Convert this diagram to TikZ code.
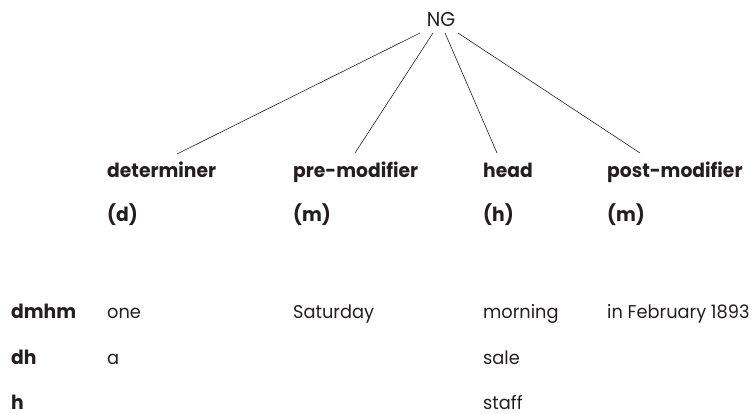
\documentclass[tikz,border=0pt]{standalone}
\usepackage{fontspec}
\setmainfont{Poppins}[FakeStretch=0.96]
\usepackage{tikz}
\tikzset{>=latex}
\usetikzlibrary{calc}
\definecolor{ink}{HTML}{231F20}
\tikzset{
  role/.style={anchor=base west, inner sep=0pt, font=\fontsize{19.5}{21}\selectfont\bfseries, text=ink},
  filler/.style={anchor=base west, inner sep=0pt, font=\fontsize{18.5}{20}\selectfont, text=ink},
  branch/.style={draw=ink, line width=0.6pt}
}

\begin{document}
\begin{tikzpicture}[x=1pt, y=-1pt]
                \useasboundingbox (0, 0) rectangle (755, 414);
                \node[filler, anchor=base, font=\fontsize{20}{22}\selectfont] (ng) at (441, 27) {NG};
                \node[role] (det) at (107, 178) {determiner};
                \node[role] (pre) at (293, 178) {pre-modifier};
                \node[role] (head) at (483, 178) {head};
                \node[role] (post) at (607, 178) {post-modifier};
                \node[role] (det-s) at (107, 222) {(d)};
                \node[role] (pre-s) at (293, 222) {(m)};
                \node[role] (head-s) at (483, 222) {(h)};
                \node[role] (post-s) at (607, 222) {(m)};
                \draw[branch] ([shift={(-21, 6)}]ng.base) -- ([shift={(70, -24)}]det.base west);
                \draw[branch] ([shift={(-8, 6)}]ng.base) -- ([shift={(62, -25)}]pre.base west);
                \draw[branch] ([shift={(4, 6)}]ng.base) -- ([shift={(14, -25)}]head.base west);
                \draw[branch] ([shift={(17, 6)}]ng.base) -- ([shift={(33, -25)}]post.base west);
                \node[role] (dmhm) at (11, 318) {dmhm};
                \node[filler] (one) at (107, 318) {one};
                \node[filler] (saturday) at (293, 318) {Saturday};
                \node[filler] (morning) at (483, 318) {morning};
                \node[filler] (february) at (607, 318) {in February 1893};
                \node[role] (dh) at (11, 364) {dh};
                \node[filler] (a) at (107, 364) {a};
                \node[filler] (sale) at (483, 364) {sale};
                \node[role] (h) at (11, 409) {h};
                \node[filler] (staff) at (483, 409) {staff};
            \end{tikzpicture}
\end{document}
